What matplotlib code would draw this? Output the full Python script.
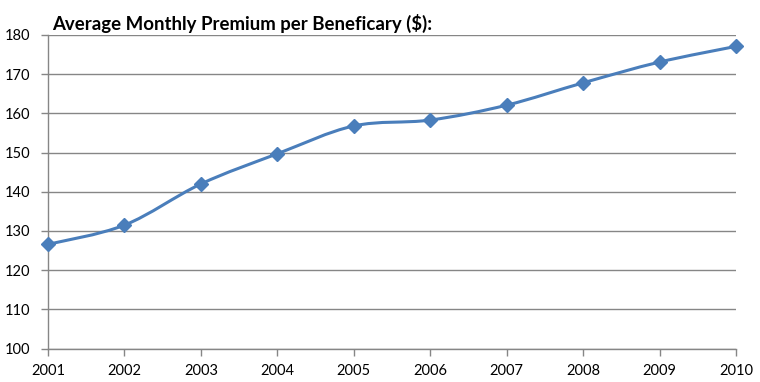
import matplotlib
matplotlib.use("Agg")
import matplotlib.pyplot as plt
from matplotlib.path import Path
from matplotlib.patches import PathPatch
import numpy as np

years = [2001, 2002, 2003, 2004, 2005, 2006, 2007, 2008, 2009, 2010]
premium = [126.6, 131.5, 142.0, 149.7, 156.8, 158.3, 162.1, 167.8, 173.1, 177.1]
y_ticks = [100, 110, 120, 130, 140, 150, 160, 170, 180]
title = "Average Monthly Premium per Beneficary ($):"

plt.rcParams['font.family'] = ['Lato', 'DejaVu Sans']

fig = plt.figure(figsize=(7.6, 3.82), dpi=100)
ax = fig.add_axes([48/760, 1-348.6/382, (736-48)/760, (348.6-35)/382])

color = '#4A7EBB'
grid_c = '#868686'

# smoothed line (Catmull-Rom style Bezier through the data points)
x = np.array(years, dtype=float)
y = np.array(premium, dtype=float)
verts = [(x[0], y[0])]
codes = [Path.MOVETO]
n = len(x)
for i in range(n - 1):
    p0 = np.array([x[max(i-1, 0)], y[max(i-1, 0)]])
    p1 = np.array([x[i], y[i]])
    p2 = np.array([x[i+1], y[i+1]])
    p3 = np.array([x[min(i+2, n-1)], y[min(i+2, n-1)]])
    c1 = p1 + (p2 - p0) / 6
    c2 = p2 - (p3 - p1) / 6
    verts += [tuple(c1), tuple(c2), tuple(p2)]
    codes += [Path.CURVE4] * 3
ax.add_patch(PathPatch(Path(verts, codes), facecolor='none', edgecolor=color,
                       lw=2.2, zorder=3, capstyle='round'))
ax.plot(years, premium, linestyle='none', marker='D', markersize=7,
        color=color, zorder=4, clip_on=False)

ax.set_xlim(years[0], years[-1])
ax.set_ylim(100, 180)
ax.set_yticks(y_ticks)
ax.set_xticks(years)
ax.set_xticklabels([str(v) for v in years])
ax.grid(axis='y', color=grid_c, lw=1)
ax.set_axisbelow(True)
for s in ['top', 'right']:
    ax.spines[s].set_visible(False)
for s in ['left', 'bottom']:
    ax.spines[s].set_color(grid_c)
    ax.spines[s].set_linewidth(1)
ax.tick_params(axis='both', colors=grid_c, length=5, width=1, labelsize=10.5,
               labelcolor='black')
ax.tick_params(axis='y', pad=8)
ax.tick_params(axis='x', pad=6)

fig.text(52/760, 1-23/382, title, fontsize=13.4, fontweight='bold',
         va='center', ha='left')

fig.savefig('out.png', dpi=100)
